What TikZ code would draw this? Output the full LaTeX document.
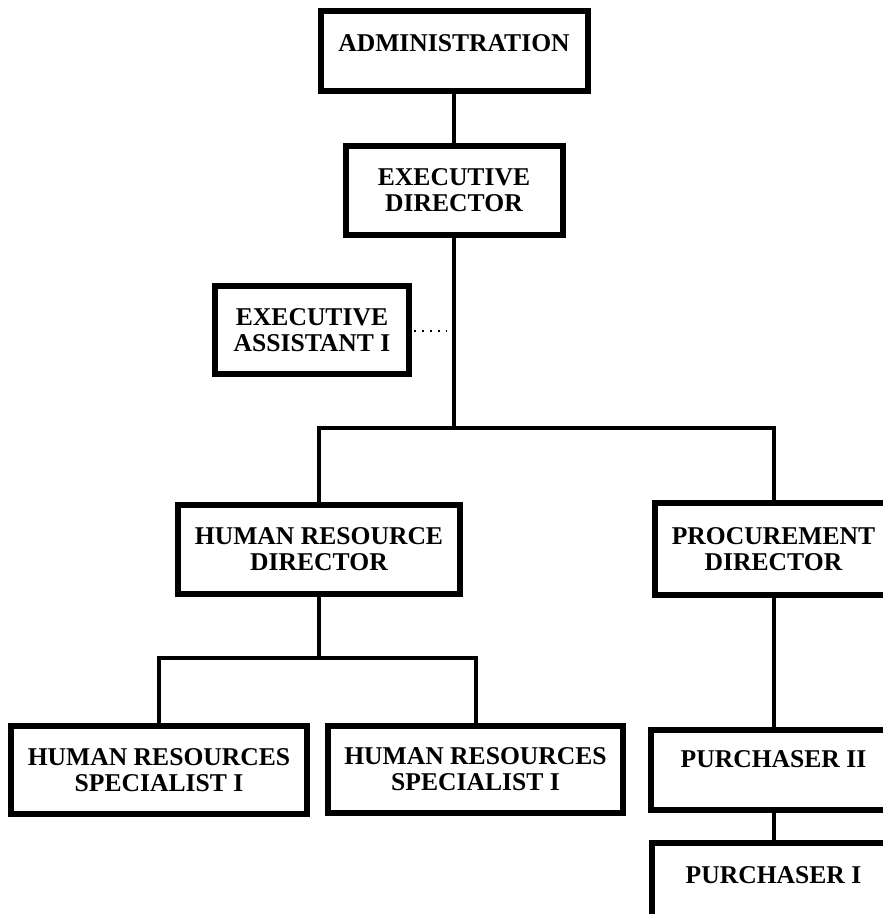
\documentclass[tikz,border=0pt]{standalone}
\usepackage{fontspec}
\setmainfont{Liberation Serif}
\begin{document}
\begin{tikzpicture}[x=1pt,y=-1pt,
  box/.style={draw, line width=6pt, rectangle, inner sep=0pt, align=center,
    font=\bfseries\fontsize{25.6}{26}\selectfont},
  title/.style={font=\bfseries\fontsize{25.6}{26}\selectfont, inner sep=0pt},
  link/.style={line width=4pt},
  dotlink/.style={line width=2pt, dash pattern=on 2pt off 6pt}]
\useasboundingbox (0,0) rectangle (883,914);
\clip (0,0) rectangle (883,914);

% top of the chart
\node[box, minimum width=267pt, minimum height=80pt] (admin) at (454,51) {};
\node[title] (admin-t) at (454,43) {ADMINISTRATION};
\node[box, minimum width=217pt, minimum height=89pt] (exec) at (454,190.5)
  {EXECUTIVE\\DIRECTOR};
\node[box, minimum width=194pt, minimum height=88pt] (asst) at (312,330)
  {EXECUTIVE\\ASSISTANT I};

% directors
\node[box, minimum width=282pt, minimum height=89pt] (hrd) at (319,549.5)
  {HUMAN RESOURCE\\DIRECTOR};
\node[box, minimum width=238pt, minimum height=92pt] (pd) at (773.5,549)
  {PROCUREMENT\\DIRECTOR};

% staff
\node[box, minimum width=296pt, minimum height=88pt] (spec1) at (159,770)
  {HUMAN RESOURCES\\SPECIALIST I};
\node[box, minimum width=295pt, minimum height=87pt] (spec2) at (475.5,769.5)
  {HUMAN RESOURCES\\SPECIALIST I};
\node[box, minimum width=246pt, minimum height=80pt] (p2) at (773.5,770) {};
\node[title] (p2-t) at (773.5,759) {PURCHASER II};
\node[box, minimum width=244pt, minimum height=80pt] (p1) at (773.5,883) {};
\node[title] (p1-t) at (773.5,875) {PURCHASER I};

% junction points
\coordinate (bar) at (454,428);
\coordinate (hrbar) at (319,658);
\coordinate (dotend) at (447,331);

% connectors
\draw[link] (admin.south) -- (exec.north);
\draw[link] (exec.south) -- (bar);
\draw[link] (hrd.north) |- (bar) -| (pd.north);
\draw[link] (hrd.south) -- (hrbar);
\draw[link] (spec1.north) |- (hrbar) -| (spec2.north);
\draw[link] (pd.south) -- (p2.north);
\draw[link] (p2.south) -- (p1.north);
\draw[dotlink] ([xshift=2pt]asst.east |- dotend) -- (dotend);
\end{tikzpicture}
\end{document}
